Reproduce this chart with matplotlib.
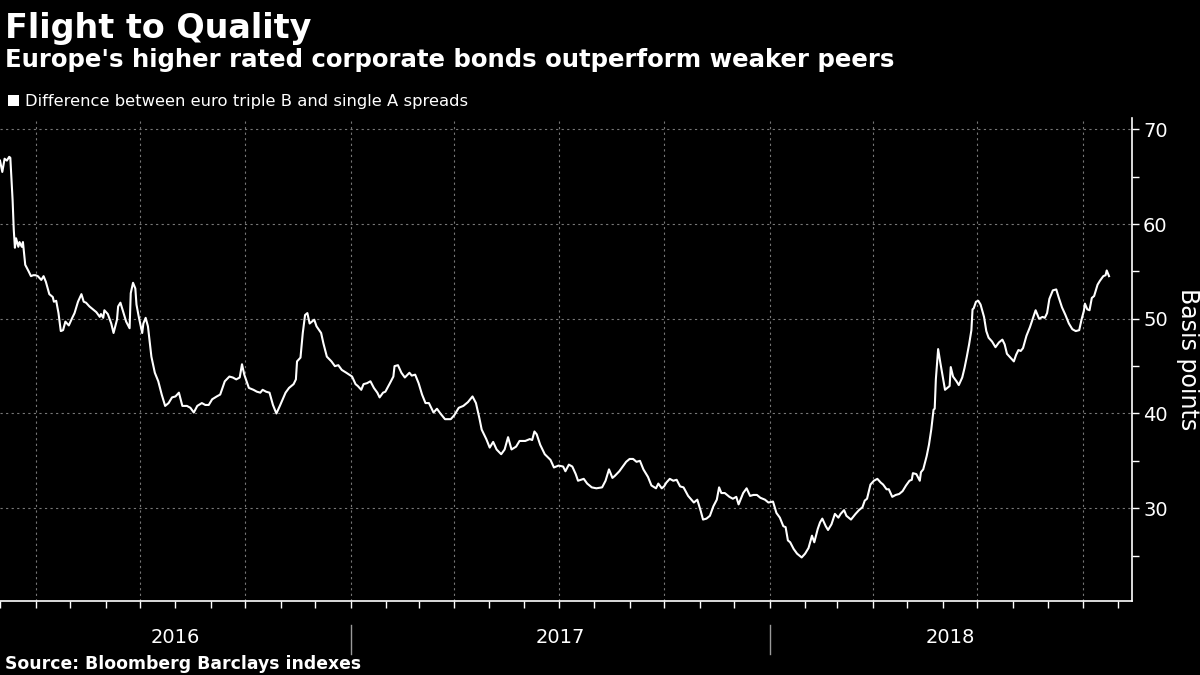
import matplotlib
matplotlib.use('Agg')
import matplotlib.pyplot as plt
import matplotlib.dates as mdates
import matplotlib.transforms as mtransforms
from matplotlib.patches import Rectangle
import pandas as pd

# spread of euro BBB over single A corporate bonds, basis points
dates_2016 = ["2016-03-01", "2016-03-03", "2016-03-05", "2016-03-07", "2016-03-09", "2016-03-10",
              "2016-03-12", "2016-03-13", "2016-03-14", "2016-03-15", "2016-03-17", "2016-03-18",
              "2016-03-20", "2016-03-21", "2016-03-23", "2016-03-26", "2016-03-28", "2016-03-30",
              "2016-04-01", "2016-04-03", "2016-04-06", "2016-04-08", "2016-04-10", "2016-04-13",
              "2016-04-16", "2016-04-17", "2016-04-19", "2016-04-21", "2016-04-23", "2016-04-25",
              "2016-04-27", "2016-04-30", "2016-05-03", "2016-05-05", "2016-05-08", "2016-05-11",
              "2016-05-13", "2016-05-15", "2016-05-18", "2016-05-21", "2016-05-24", "2016-05-27",
              "2016-05-28", "2016-05-30", "2016-05-31", "2016-06-03", "2016-06-06", "2016-06-08",
              "2016-06-11", "2016-06-12", "2016-06-14", "2016-06-16", "2016-06-19", "2016-06-22",
              "2016-06-23", "2016-06-25", "2016-06-27", "2016-06-28", "2016-06-30", "2016-07-03",
              "2016-07-04", "2016-07-06", "2016-07-08", "2016-07-11", "2016-07-14", "2016-07-17",
              "2016-07-20", "2016-07-23", "2016-07-26", "2016-07-29", "2016-08-01", "2016-08-04",
              "2016-08-07", "2016-08-11", "2016-08-14", "2016-08-17", "2016-08-20", "2016-08-24",
              "2016-08-27", "2016-08-30", "2016-09-02", "2016-09-06", "2016-09-09", "2016-09-11",
              "2016-09-13", "2016-09-17", "2016-09-20", "2016-09-23", "2016-09-26", "2016-09-28",
              "2016-09-30", "2016-10-04", "2016-10-08", "2016-10-11", "2016-10-14", "2016-10-16",
              "2016-10-19", "2016-10-22", "2016-10-25", "2016-10-28", "2016-10-31", "2016-11-05",
              "2016-11-08", "2016-11-10", "2016-11-12", "2016-11-14", "2016-11-15", "2016-11-18",
              "2016-11-20", "2016-11-22", "2016-11-24", "2016-11-26", "2016-11-28", "2016-11-30",
              "2016-12-02", "2016-12-06", "2016-12-08", "2016-12-11", "2016-12-15", "2016-12-18",
              "2016-12-21", "2016-12-24", "2016-12-28"]
spread_2016 = [66.7, 65.5, 66.9, 66.7, 67.1, 67.0,
               62.5, 59.4, 57.5, 58.5, 57.6, 58.1,
               57.6, 58.1, 55.7, 55.0, 54.5, 54.6,
               54.6, 54.5, 54.1, 54.5, 53.9, 52.6,
               52.3, 51.8, 51.9, 50.6, 48.7, 48.8,
               49.7, 49.3, 50.1, 50.6, 51.8, 52.6,
               51.8, 51.7, 51.3, 51.0, 50.7, 50.2,
               50.5, 50.1, 50.9, 50.5, 49.5, 48.5,
               49.9, 51.3, 51.7, 50.9, 49.7, 49.0,
               52.7, 53.8, 53.2, 51.5, 50.2, 48.5,
               49.5, 50.1, 49.2, 46.0, 44.3, 43.4,
               42.0, 40.8, 41.1, 41.7, 41.8, 42.2,
               40.8, 40.8, 40.6, 40.1, 40.8, 41.1,
               40.9, 40.9, 41.5, 41.8, 42.0, 42.7,
               43.4, 43.9, 43.8, 43.6, 43.8, 45.2,
               44.1, 42.7, 42.5, 42.3, 42.2, 42.5,
               42.3, 42.2, 40.9, 40.0, 40.8, 42.2,
               42.7, 42.9, 43.1, 43.6, 45.5, 45.9,
               48.5, 50.4, 50.6, 49.5, 49.7, 49.9,
               49.2, 48.5, 47.4, 46.0, 45.5, 45.0,
               45.1, 44.6, 44.3]

dates_2017 = ["2017-01-02", "2017-01-05", "2017-01-07", "2017-01-10", "2017-01-12", "2017-01-15",
              "2017-01-18", "2017-01-21", "2017-01-24", "2017-01-26", "2017-01-29", "2017-01-31",
              "2017-02-04", "2017-02-07", "2017-02-08", "2017-02-11", "2017-02-14", "2017-02-17",
              "2017-02-21", "2017-02-23", "2017-02-26", "2017-03-01", "2017-03-04", "2017-03-07",
              "2017-03-10", "2017-03-14", "2017-03-17", "2017-03-20", "2017-03-24", "2017-03-29",
              "2017-04-01", "2017-04-05", "2017-04-09", "2017-04-13", "2017-04-17", "2017-04-20",
              "2017-04-23", "2017-04-25", "2017-04-29", "2017-05-02", "2017-05-05", "2017-05-08",
              "2017-05-12", "2017-05-15", "2017-05-18", "2017-05-21", "2017-05-25", "2017-05-28",
              "2017-06-02", "2017-06-06", "2017-06-08", "2017-06-10", "2017-06-12", "2017-06-15",
              "2017-06-19", "2017-06-24", "2017-06-27", "2017-07-01", "2017-07-05", "2017-07-07",
              "2017-07-10", "2017-07-13", "2017-07-16", "2017-07-18", "2017-07-23", "2017-07-26",
              "2017-07-30", "2017-08-03", "2017-08-08", "2017-08-11", "2017-08-14", "2017-08-17",
              "2017-08-19", "2017-08-23", "2017-08-26", "2017-08-29", "2017-09-01", "2017-09-04",
              "2017-09-07", "2017-09-10", "2017-09-13", "2017-09-17", "2017-09-20", "2017-09-24",
              "2017-09-26", "2017-09-29", "2017-10-01", "2017-10-03", "2017-10-06", "2017-10-09",
              "2017-10-12", "2017-10-15", "2017-10-18", "2017-10-22", "2017-10-27", "2017-10-30",
              "2017-11-02", "2017-11-04", "2017-11-07", "2017-11-10", "2017-11-13", "2017-11-16",
              "2017-11-18", "2017-11-20", "2017-11-23", "2017-11-27", "2017-11-30", "2017-12-03",
              "2017-12-05", "2017-12-07", "2017-12-09", "2017-12-12", "2017-12-15", "2017-12-18",
              "2017-12-21", "2017-12-24", "2017-12-28", "2017-12-31"]
spread_2017 = [43.9, 43.1, 42.9, 42.5, 43.1, 43.2,
               43.4, 42.7, 42.2, 41.7, 42.2, 42.3,
               43.2, 43.9, 45.0, 45.1, 44.3, 43.8,
               44.3, 44.0, 44.1, 43.2, 42.0, 41.1,
               41.1, 40.1, 40.5, 40.0, 39.4, 39.4,
               39.8, 40.6, 40.8, 41.2, 41.8, 41.1,
               39.5, 38.3, 37.3, 36.4, 37.0, 36.2,
               35.7, 36.2, 37.5, 36.2, 36.5, 37.1,
               37.1, 37.3, 37.2, 38.1, 37.8, 36.7,
               35.7, 35.1, 34.3, 34.5, 34.4, 33.9,
               34.6, 34.4, 33.6, 32.9, 33.1, 32.6,
               32.2, 32.1, 32.2, 32.9, 34.1, 33.2,
               33.4, 33.9, 34.4, 34.9, 35.2, 35.2,
               34.9, 35.0, 34.1, 33.3, 32.4, 32.1,
               32.6, 32.1, 32.3, 32.7, 33.1, 32.9,
               33.0, 32.3, 32.2, 31.3, 30.6, 30.9,
               29.7, 28.8, 28.9, 29.2, 30.2, 30.9,
               32.2, 31.6, 31.6, 31.2, 31.0, 31.2,
               30.4, 31.0, 31.6, 32.1, 31.3, 31.4,
               31.4, 31.1, 30.9, 30.6]

dates_2018 = ["2018-01-04", "2018-01-07", "2018-01-10", "2018-01-13", "2018-01-15", "2018-01-17",
              "2018-01-19", "2018-01-22", "2018-01-25", "2018-01-29", "2018-02-01", "2018-02-04",
              "2018-02-07", "2018-02-09", "2018-02-12", "2018-02-14", "2018-02-16", "2018-02-19",
              "2018-02-21", "2018-02-24", "2018-02-27", "2018-03-02", "2018-03-04", "2018-03-07",
              "2018-03-09", "2018-03-13", "2018-03-17", "2018-03-20", "2018-03-23", "2018-03-25",
              "2018-03-27", "2018-03-30", "2018-04-02", "2018-04-05", "2018-04-08", "2018-04-10",
              "2018-04-13", "2018-04-15", "2018-04-18", "2018-04-21", "2018-04-24", "2018-04-27",
              "2018-04-30", "2018-05-03", "2018-05-05", "2018-05-06", "2018-05-09", "2018-05-12",
              "2018-05-13", "2018-05-15", "2018-05-18", "2018-05-20", "2018-05-22", "2018-05-24",
              "2018-05-25", "2018-05-26", "2018-05-28", "2018-05-30", "2018-06-03", "2018-06-05",
              "2018-06-07", "2018-06-08", "2018-06-10", "2018-06-13", "2018-06-15", "2018-06-18",
              "2018-06-20", "2018-06-22", "2018-06-24", "2018-06-26", "2018-06-27", "2018-06-28",
              "2018-06-30", "2018-07-02", "2018-07-04", "2018-07-07", "2018-07-09", "2018-07-11",
              "2018-07-14", "2018-07-17", "2018-07-20", "2018-07-23", "2018-07-25", "2018-07-27",
              "2018-07-30", "2018-08-02", "2018-08-04", "2018-08-06", "2018-08-08", "2018-08-10",
              "2018-08-13", "2018-08-16", "2018-08-19", "2018-08-21", "2018-08-24", "2018-08-27",
              "2018-08-29", "2018-08-31", "2018-09-02", "2018-09-05", "2018-09-08", "2018-09-10",
              "2018-09-13", "2018-09-16", "2018-09-19", "2018-09-22", "2018-09-25", "2018-09-28",
              "2018-09-30", "2018-10-02", "2018-10-03", "2018-10-05", "2018-10-07", "2018-10-09",
              "2018-10-11", "2018-10-14", "2018-10-16", "2018-10-19", "2018-10-21", "2018-10-22",
              "2018-10-24"]
spread_2018 = [30.7, 29.5, 29.0, 28.1, 28.0, 26.6,
               26.4, 25.7, 25.2, 24.8, 25.2, 25.8,
               27.1, 26.4, 27.8, 28.5, 28.9, 28.1,
               27.7, 28.3, 29.4, 29.0, 29.4, 29.8,
               29.2, 28.8, 29.4, 29.8, 30.1, 30.8,
               31.0, 32.5, 32.9, 33.1, 32.7, 32.5,
               32.0, 32.0, 31.2, 31.4, 31.5, 31.8,
               32.4, 32.9, 33.0, 33.7, 33.6, 32.9,
               33.8, 34.1, 35.5, 36.7, 38.3, 40.4,
               40.5, 43.6, 46.8, 45.3, 42.5, 42.7,
               42.9, 44.9, 43.9, 43.4, 43.0, 43.8,
               44.8, 46.0, 47.3, 48.8, 51.0, 51.1,
               51.8, 51.9, 51.5, 50.2, 48.7, 48.0,
               47.6, 47.0, 47.5, 47.8, 47.3, 46.3,
               45.9, 45.5, 46.2, 46.7, 46.6, 46.9,
               48.2, 49.1, 50.2, 50.9, 50.0, 50.2,
               50.1, 50.6, 52.1, 53.0, 53.1, 52.3,
               51.2, 50.4, 49.5, 48.9, 48.7, 48.8,
               49.9, 50.8, 51.6, 51.0, 50.9, 52.2,
               52.4, 53.6, 54.0, 54.5, 54.6, 55.1,
               54.5]

title = 'Flight to Quality'
subtitle = "Europe's higher rated corporate bonds outperform weaker peers"
series_label = 'Difference between euro triple B and single A spreads'
source = 'Source: Bloomberg Barclays indexes'
y_label = 'Basis points'
y_ticks = [30, 40, 50, 60, 70]
x_start, x_end = '2016-03-01', '2018-11-13'
year_starts = ['2017-01-01', '2018-01-01']
year_labels = ['2016', '2017', '2018']

dates = pd.to_datetime(dates_2016 + dates_2017 + dates_2018)
spread = spread_2016 + spread_2017 + spread_2018

plt.rcParams['font.family'] = ['DejaVu Sans']
fg = 'white'
grid_col = '#777777'

fig = plt.figure(figsize=(12, 6.75), dpi=100, facecolor='black')
ax = fig.add_axes([0.0, 0.1096, 0.9433, 0.7156])
ax.set_facecolor('black')

ax.plot(dates, spread, color=fg, lw=1.5, solid_joinstyle='round')

ax.set_xlim(pd.Timestamp(x_start), pd.Timestamp(x_end))
ax.set_ylim(20.2, 71.2)

# spines: only bottom and right
for side in ['top', 'left']:
    ax.spines[side].set_visible(False)
for side in ['bottom', 'right']:
    ax.spines[side].set_color(fg)
    ax.spines[side].set_linewidth(1.2)

# y axis on the right
ax.yaxis.tick_right()
ax.set_yticks(y_ticks)
ax.set_yticks([25, 35, 45, 55, 65], minor=True)
ax.tick_params(axis='y', which='both', colors=fg, length=5, width=1, labelsize=14, pad=3)
fig.text(1188 / 1200, 1 - 359 / 675, y_label, rotation=270, color=fg, fontsize=17,
         ha='center', va='center')

# x axis: month ticks, quarterly grid, no tick labels
ax.xaxis.set_major_locator(mdates.MonthLocator(bymonth=[1, 4, 7, 10]))
ax.xaxis.set_minor_locator(mdates.MonthLocator())
ax.xaxis.set_major_formatter(plt.NullFormatter())
ax.tick_params(axis='x', which='both', colors=fg, length=5, width=1)

ax.grid(True, which='major', color=grid_col, linestyle=(0, (2, 3)), linewidth=0.8)
ax.set_axisbelow(True)

# year separators and centered year labels
trans = mtransforms.blended_transform_factory(ax.transData, ax.transAxes)
for d in year_starts:
    ax.plot([pd.Timestamp(d)] * 2, [-0.05, -0.11], transform=trans, color='#9a9a9a',
            lw=1, clip_on=False)
bounds = [pd.Timestamp(x_start)] + [pd.Timestamp(d) for d in year_starts] + [pd.Timestamp(x_end)]
for i, lab in enumerate(year_labels):
    mid = bounds[i] + (bounds[i + 1] - bounds[i]) / 2
    ax.text(mid, -0.075, lab, transform=trans, color=fg, fontsize=14, ha='center', va='center')

# titles
fig.text(0.004, 1 - 38 / 675, title, color=fg, fontsize=24, fontweight='bold', va='baseline')
fig.text(0.004, 1 - 67 / 675, subtitle, color=fg, fontsize=17.6, fontweight='bold', va='baseline')
fig.patches.append(Rectangle((8 / 1200, 1 - 106 / 675), 11 / 1200, 11 / 675,
                             transform=fig.transFigure, facecolor=fg, edgecolor='none'))
fig.text(25 / 1200, 1 - 106 / 675, series_label, color=fg, fontsize=11.8, va='baseline')
fig.text(0.004, 1 - 669 / 675, source, color=fg, fontsize=12.4, fontweight='bold', va='baseline')

fig.savefig('out.png', dpi=100, facecolor='black')
